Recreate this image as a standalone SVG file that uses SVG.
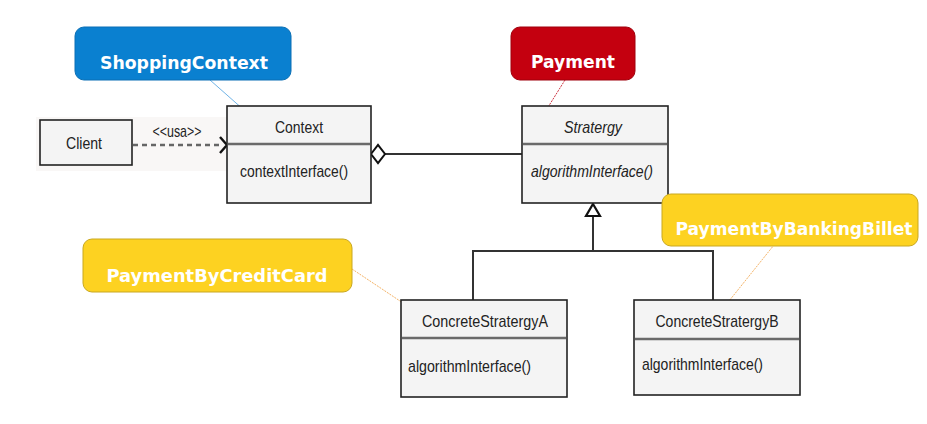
<svg xmlns="http://www.w3.org/2000/svg" width="927" height="424" viewBox="0 0 927 424">
<defs>
<style>
.box{fill:#f4f4f4;stroke:#222;stroke-width:1.6}
.div{stroke:#6a6a6a;stroke-width:2.6}
.t{font-family:"Liberation Sans",Arial,sans-serif;font-size:17px;fill:#222}
.it{font-style:italic}
.lbl{font-family:"DejaVu Sans","Liberation Sans",sans-serif;font-weight:bold;font-size:17px;fill:#fff}
.line{fill:none;stroke:#333;stroke-width:2}
</style>
</defs>
<rect x="0" y="0" width="927" height="424" fill="#ffffff"/>
<rect x="36" y="117" width="194" height="54" fill="#f9f7f6"/>
<g id="connectors">
<path d="M133 145 H222" fill="none" stroke="#666" stroke-width="2.6" stroke-dasharray="5,4"/>
<path d="M220 137 L227 145 L220 153" fill="none" stroke="#111" stroke-width="2.4"/>
<path d="M385 154 H522" class="line"/>
<path d="M371 154 L378 145 L385 154 L378 163 Z" fill="#fff" stroke="#111" stroke-width="2"/>
<path d="M593 216 V251 M473 300 V251 H713 V300" class="line" stroke="#555"/>
<path d="M593 204 L600 216 L586 216 Z" fill="#fff" stroke="#111" stroke-width="2.2"/>
<path d="M210 80 L253 118" stroke="#4aa0e0" stroke-width="0.8" fill="none"/>
<path d="M565 80 L540 120" stroke="#c00010" stroke-width="0.8" stroke-dasharray="2,1" fill="none"/>
<path d="M778 240 L725 306" stroke="#f0a040" stroke-width="0.8" stroke-dasharray="2,1" fill="none"/>
<path d="M352 269 L418 313" stroke="#f0a040" stroke-width="0.8" stroke-dasharray="2,1" fill="none"/>
<text x="177" y="137" text-anchor="middle" class="t" font-size="13" textLength="49" lengthAdjust="spacingAndGlyphs">&lt;&lt;usa&gt;&gt;</text>
</g>
<g id="client">
<rect x="40" y="120" width="92" height="45" class="box" stroke-width="2"/>
<text x="84" y="149" text-anchor="middle" class="t" textLength="36" lengthAdjust="spacingAndGlyphs">Client</text>
</g>
<g id="context">
<rect x="227" y="106" width="144" height="97" class="box"/>
<line x1="228" y1="144" x2="370" y2="144" class="div"/>
<text x="299" y="133" text-anchor="middle" class="t" textLength="48" lengthAdjust="spacingAndGlyphs">Context</text>
<text x="240" y="177" class="t" textLength="108" lengthAdjust="spacingAndGlyphs">contextInterface()</text>
</g>
<g id="strategy">
<rect x="522" y="106" width="146" height="97" class="box"/>
<line x1="523" y1="144" x2="667" y2="144" class="div"/>
<text x="593" y="133" text-anchor="middle" class="t it" textLength="58" lengthAdjust="spacingAndGlyphs">Stratergy</text>
<text x="531" y="177" class="t it" textLength="122" lengthAdjust="spacingAndGlyphs">algorithmInterface()</text>
</g>
<g id="concreteA">
<rect x="401" y="300" width="166" height="97" class="box"/>
<line x1="402" y1="338" x2="566" y2="338" class="div" stroke-width="1.6" stroke="#333"/>
<text x="485" y="327" text-anchor="middle" class="t" textLength="126" lengthAdjust="spacingAndGlyphs">ConcreteStratergyA</text>
<text x="408" y="372" class="t" textLength="123" lengthAdjust="spacingAndGlyphs">algorithmInterface()</text>
</g>
<g id="concreteB">
<rect x="634" y="300" width="166" height="95" class="box"/>
<line x1="635" y1="339" x2="799" y2="339" class="div" stroke-width="1.6" stroke="#333"/>
<text x="717" y="327" text-anchor="middle" class="t" textLength="123" lengthAdjust="spacingAndGlyphs">ConcreteStratergyB</text>
<text x="642" y="370" class="t" textLength="121" lengthAdjust="spacingAndGlyphs">algorithmInterface()</text>
</g>
<g id="shoppingContext">
<rect x="75" y="27" width="216" height="53" rx="9" fill="#0a80d0" stroke="#0a6fb5" stroke-width="1"/>
<text x="184" y="69" text-anchor="middle" class="lbl" textLength="168" lengthAdjust="spacingAndGlyphs">ShoppingContext</text>
</g>
<g id="payment">
<rect x="511" y="27" width="124" height="53" rx="9" fill="#c4000f" stroke="#a0000c" stroke-width="1"/>
<text x="573" y="68" text-anchor="middle" class="lbl" textLength="84" lengthAdjust="spacingAndGlyphs">Payment</text>
</g>
<g id="paymentByBankingBillet">
<rect x="662" y="194" width="256" height="52" rx="9" fill="#fdd221" stroke="#c9a820" stroke-width="1"/>
<text x="794" y="235" text-anchor="middle" class="lbl" textLength="237" lengthAdjust="spacingAndGlyphs">PaymentByBankingBillet</text>
</g>
<g id="paymentByCreditCard">
<rect x="83" y="239" width="269" height="53" rx="9" fill="#fdd221" stroke="#c9a820" stroke-width="1"/>
<text x="217" y="282" text-anchor="middle" class="lbl" textLength="221" lengthAdjust="spacingAndGlyphs">PaymentByCreditCard</text>
</g>
</svg>
